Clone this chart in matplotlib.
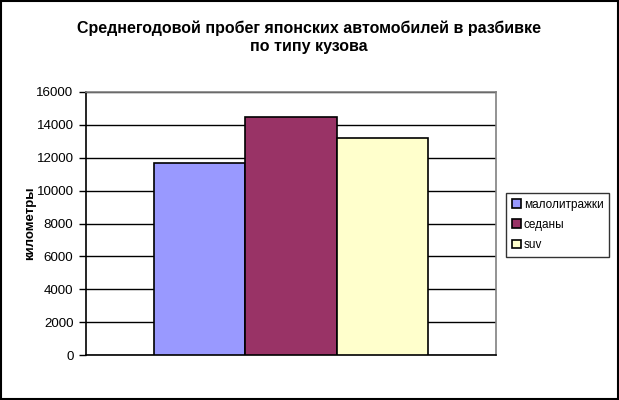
import matplotlib
matplotlib.use("Agg")
import matplotlib.pyplot as plt
from matplotlib.patches import Rectangle

plt.rcParams['font.family'] = ['Liberation Sans', 'DejaVu Sans']

series = ["малолитражки", "седаны", "suv"]
values = [11700, 14500, 13200]
colors = ["#9999FF", "#993366", "#FFFFCC"]
yticks = [0, 2000, 4000, 6000, 8000, 10000, 12000, 14000, 16000]

W, H = 619, 400
fig = plt.figure(figsize=(W / 100, H / 100), dpi=100)
# plot area in pixels: left 86, right 496, top 92, bottom 355
ax = fig.add_axes([86 / W, 1 - 355 / H, (496 - 86) / W, (355 - 92) / H])

w = 1 / 4.5
for i, (s, v, c) in enumerate(zip(series, values, colors)):
    ax.bar(0.5 + (i - 1) * w, v, width=w, color=c, edgecolor="black",
           linewidth=1.2, label=s, zorder=3)

ax.set_xlim(0, 1)
ax.set_ylim(0, 16000)
ax.set_yticks(yticks)
ax.set_yticklabels([str(t) for t in yticks], fontsize=9.6)
ax.set_xticks([])
ax.yaxis.grid(True, color="black", linewidth=1, zorder=0)
ax.tick_params(axis="y", direction="out", length=5, width=1, pad=4)
ax.spines["left"].set_color("black")
ax.spines["bottom"].set_color("black")
ax.spines["top"].set_color("#808080")
ax.spines["right"].set_color("#808080")
for sp in ax.spines.values():
    sp.set_linewidth(1.2)

fig.text(30 / W, 1 - 223 / H, "километры", rotation=90, ha="center", va="center",
         fontsize=9.5, fontweight="bold")

fig.text(309 / W, 1 - 28 / H, "Среднегодовой пробег японских автомобилей в разбивке",
         ha="center", va="center", fontsize=11.5, fontweight="bold")
fig.text(309 / W, 1 - 46 / H, "по типу кузова",
         ha="center", va="center", fontsize=11.5, fontweight="bold")

leg = fig.legend(loc="upper left", bbox_to_anchor=(506 / W, 1 - 193 / H),
                 fontsize=8.5, frameon=True, fancybox=False, handlelength=0.75,
                 handleheight=0.75, handletextpad=0.25, labelspacing=0.68,
                 borderpad=0.5, borderaxespad=0)
leg.get_frame().set_edgecolor("black")
leg.get_frame().set_linewidth(1)

fig.patches.append(Rectangle((1 / W, 1.5 / H), 1 - 2.5 / W, 1 - 2.5 / H,
                             transform=fig.transFigure, fill=False,
                             edgecolor="black", linewidth=1.5))

fig.savefig("out.png", dpi=100)
